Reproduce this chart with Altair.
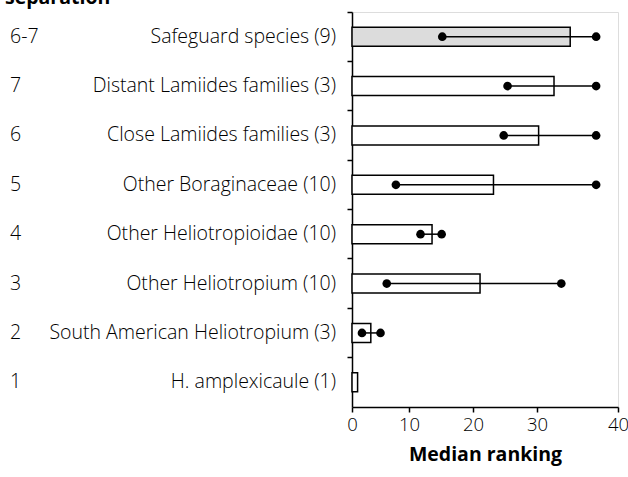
import altair as alt
import pandas as pd

categories = [
    "Safeguard species (9)",
    "Distant Lamiides families (3)",
    "Close Lamiides families (3)",
    "Other Boraginaceae (10)",
    "Other Heliotropioidae (10)",
    "Other Heliotropium (10)",
    "South American Heliotropium (3)",
    "H. amplexicaule (1)",
]
levels = ["6-7", "7", "6", "5", "4", "3", "2", "1"]
median = [34.1, 32.1, 30.2, 23.2, 13.6, 21.1, 3.3, 0.98]
min_rank = [15.2, 25.4, 24.8, 7.7, 11.8, 6.1, 1.75, None]
max_rank = [37.3, 37.3, 37.3, 37.3, 15.1, 33.0, 5.0, None]
patterned = [True, False, False, False, False, False, False, False]
x_ticks = [0, 10, 20, 30, 40]

FONT = "Open Sans"
FS = 19.5

df = pd.DataFrame({
    "cat": categories,
    "level": levels,
    "median": median,
    "pat": ["yes" if p else "no" for p in patterned],
})
rng = pd.DataFrame({
    "cat": [c for c, lo in zip(categories, min_rank) if lo is not None],
    "lo": [lo for lo in min_rank if lo is not None],
    "hi": [hi for hi in max_rank if hi is not None],
})
pts = pd.DataFrame({
    "cat": list(rng["cat"]) * 2,
    "v": list(rng["lo"]) + list(rng["hi"]),
})

y_enc = alt.Y(
    "cat:N",
    sort=categories,
    scale=alt.Scale(paddingInner=0, paddingOuter=0),
    axis=alt.Axis(
        title=None, labels=False, bandPosition=0, tickSize=5,
        domainColor="black", tickColor="black", domainWidth=1.5, tickWidth=1.5,
    ),
)
# the source figure's axis is drawn with uneven tick spacing
x_scale = alt.Scale(domain=x_ticks, range=[0, 57, 121, 185, 266], nice=False)

bars = alt.Chart(df).mark_bar(size=19, stroke="black", strokeWidth=1.5).encode(
    x=alt.X(
        "median:Q", scale=x_scale,
        axis=alt.Axis(
            values=x_ticks, title="Median ranking", grid=False,
            tickSize=5, domainColor="black", tickColor="black", domainWidth=1.5, tickWidth=1.5,
            labelFont=FONT, labelFontSize=18.5, labelFontWeight=300, labelColor="black", labelPadding=3,
            labelOverlap=False, labelFlush=False,
            titleFont=FONT, titleFontSize=FS, titleFontWeight="bold", titleColor="black",
            titlePadding=12,
        ),
    ),
    y=y_enc,
    fill=alt.Fill("pat:N", scale=alt.Scale(domain=["yes", "no"], range=["#dcdcdc", "white"]), legend=None),
)

rules = alt.Chart(rng).mark_rule(color="black", strokeWidth=1.5).encode(
    x=alt.X("lo:Q", scale=x_scale), x2="hi:Q", y=alt.Y("cat:N", sort=categories)
)

dots = alt.Chart(pts).mark_circle(size=75, color="black", opacity=1).encode(
    x=alt.X("v:Q", scale=x_scale), y=alt.Y("cat:N", sort=categories)
)

names = alt.Chart(df).mark_text(align="right", baseline="middle", font=FONT, fontSize=FS, fontWeight=300, color="black").encode(
    x=alt.value(-16), y=alt.Y("cat:N", sort=categories), text="cat:N"
)
lvls = alt.Chart(df).mark_text(align="left", baseline="middle", font=FONT, fontSize=FS, fontWeight=300, color="black").encode(
    x=alt.value(-342), y=alt.Y("cat:N", sort=categories), text="level:N"
)
top_title = alt.Chart(pd.DataFrame({"t": ["separation"]})).mark_text(
    align="left", baseline="alphabetic", font=FONT, fontSize=FS, fontWeight="bold", color="black"
).encode(x=alt.value(-347), y=alt.value(-8), text="t:N")

chart = alt.layer(bars, rules, dots, names, lvls, top_title).properties(
    width=266, height=395,
    autosize=alt.AutoSizeParams(type="none"),
    padding={"left": 352, "top": 12, "right": 10, "bottom": 70},
).configure_view(stroke=None).configure(background="white")

chart.save("out.html", embed_options={"renderer": "svg", "actions": False})
